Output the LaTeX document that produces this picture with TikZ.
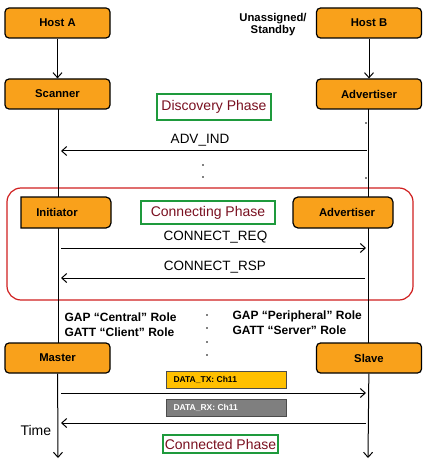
\documentclass[tikz,border=0pt]{standalone}
\usepackage{fontspec}
\setmainfont{Liberation Sans}
\usetikzlibrary{arrows.meta}
\definecolor{orng}{HTML}{F9A11B}
\definecolor{phred}{HTML}{7A1020}
\definecolor{phgreen}{HTML}{1E9A3C}
\definecolor{txfill}{HTML}{FFC000}
\definecolor{rxfill}{HTML}{7F7F7F}
\definecolor{frame}{HTML}{D01F1F}
\tikzset{
  lbl/.style={font=\fontsize{11.3}{12}\selectfont\bfseries},
  rolebox/.style={draw=black, line width=1.2pt, fill=orng, rounded corners=4pt,
    minimum width=105pt, minimum height=30pt, inner sep=0pt, lbl},
  phasebox/.style={draw=phgreen, line width=1.3pt, fill=white, inner sep=0pt,
    text=phred, font=\fontsize{14}{15}\selectfont},
  msg/.style={font=\fontsize{13.5}{14}\selectfont},
  arr/.style={-{Straight Barb[length=5pt,width=9pt]}, line width=1pt},
  life/.style={line width=1pt},
  roletxt/.style={font=\fontsize{12}{14.5}\selectfont\bfseries, align=left, anchor=west},
  dot/.style={circle, fill=black, inner sep=0pt, minimum size=1.6pt},
  chbox/.style={draw=black!70, line width=0.8pt, minimum width=120pt, minimum height=17pt,
    inner sep=0pt},
  chtxt/.style={font=\fontsize{8.5}{9}\selectfont\bfseries, anchor=west}
}
\begin{document}
\begin{tikzpicture}[x=1pt,y=-1pt]
\useasboundingbox (0,0) rectangle (430,465);
% frame for connecting phase
\draw[frame, line width=1.2pt, rounded corners=14pt] (7,188) rectangle (413,300);
% lifelines
\draw[life] (58,109) -- (58,343);
\draw[life] (368,109) -- (368,343);
% top boxes
\node[rolebox] (hostA) at (57.5,23) {Host A};
\node[rolebox] (hostB) at (369,23) {Host B};
\node[lbl, align=center] (unas) at (273,25) {Unassigned/\\Standby};
\node[rolebox] (scan) at (57.5,94) {Scanner};
\node[rolebox] (adv1) at (369,94) {Advertiser};
\draw[arr] (hostA) -- (scan);
\draw[arr] (hostB) -- (adv1);
% discovery
\node[phasebox, minimum width=114pt, minimum height=26pt] (disc) at (214,107) {Discovery Phase};
\coordinate (a1s) at (367,151);
\coordinate (a1e) at (61,151);
\draw[arr] (a1s) -- node[msg, above=1pt, xshift=-14pt] (advind) {ADV\_IND} (a1e);
\node[dot] (d1) at (203,165) {};
\node[dot] (d2) at (203,177) {};
\node[dot] (d3) at (366,123) {};
\node[dot] (d4) at (366,178) {};
% connecting
\draw[line width=1.2pt, fill=orng, line join=miter] (60,197) [rounded corners=5pt] -- (111,197) -- (111,228) -- (60,228) [sharp corners] -- (21,228) -- (21,197) -- cycle;
\node[lbl] (initt) at (57,212) {Initiator};
\draw[line width=1.2pt, fill=orng, rounded corners=5pt] (293,197) rectangle (393,228);
\node[lbl] (adv2) at (347,212) {Advertiser};
\node[phasebox, minimum width=134pt, minimum height=23pt] (conn) at (208,212.5) {Connecting Phase};
\coordinate (r1s) at (61,248);
\coordinate (r1e) at (366,248);
\draw[arr] (r1s) -- node[msg, above=1pt, xshift=2pt] (creq) {CONNECT\_REQ} (r1e);
\coordinate (r2s) at (365,278);
\coordinate (r2e) at (61,278);
\draw[arr] (r2s) -- node[msg, above=1pt, xshift=2pt] (crsp) {CONNECT\_RSP} (r2e);
% roles
\node[roletxt] (cen) at (61,324.5) {GAP “Central” Role\\GATT “Client” Role};
\node[roletxt] (per) at (229,322.5) {GAP “Peripheral” Role\\GATT “Server” Role};
\node[dot] (e1) at (207,315) {};
\node[dot] (e2) at (207,328) {};
\node[dot] (e3) at (207,342) {};
\node[dot] (e4) at (207,355) {};
% connected
\node[rolebox] (mast) at (57.5,358) {Master};
\node[rolebox] (slv) at (369,358) {Slave};
\coordinate (endA) at (58,458);
\coordinate (endB) at (368,458);
\draw[arr] (mast) -- (endA);
\draw[arr] (slv) -- (endB);
\node[chbox, fill=txfill] (tx) at (226,379.5) {};
\node[chtxt] (txt) at (170,379.5) {DATA\_TX: Ch11};
\coordinate (t1s) at (61,393);
\coordinate (t1e) at (366,393);
\draw[arr] (t1s) -- (t1e);
\node[chbox, fill=rxfill] (rx) at (226,407.5) {};
\node[chtxt, text=white] (rxt) at (170,407.5) {DATA\_RX: Ch11};
\coordinate (t2s) at (366,423);
\coordinate (t2e) at (61,423);
\draw[arr] (t2s) -- (t2e);
\node[font=\fontsize{14}{15}\selectfont, anchor=west] (time) at (17,430) {Time};
\node[phasebox, minimum width=115pt, minimum height=18pt] (cnd) at (220.5,444) {Connected Phase};
\end{tikzpicture}
\end{document}
